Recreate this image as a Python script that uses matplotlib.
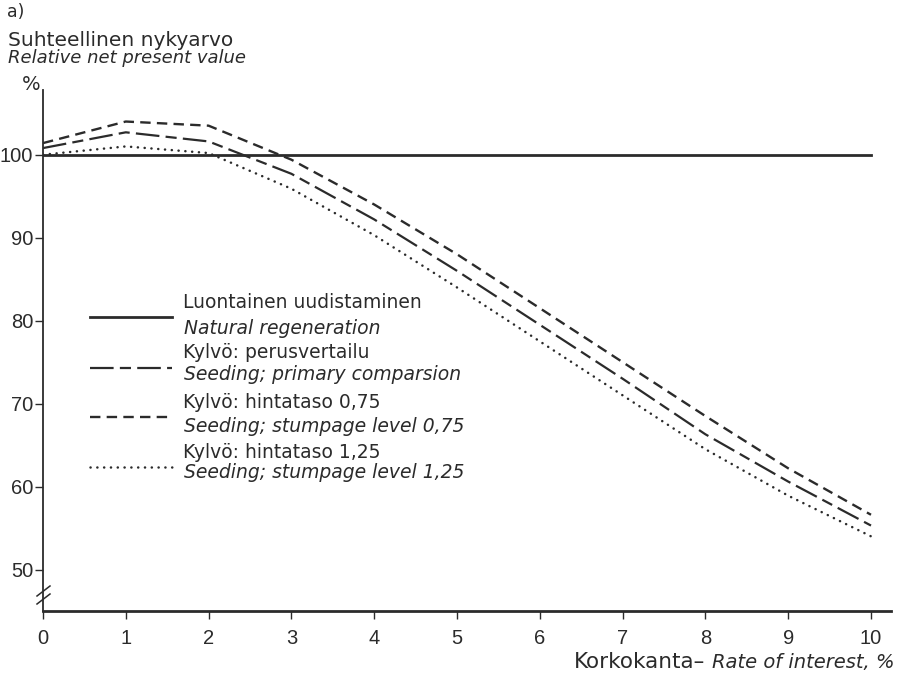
import numpy as np
import matplotlib
matplotlib.use("Agg")
import matplotlib.pyplot as plt
from matplotlib.lines import Line2D

plt.rcParams['font.family'] = ['DejaVu Sans']
plt.rcParams['lines.scale_dashes'] = False

# korkokanta %
rate = [0, 1, 2, 3, 4, 5, 6, 7, 8, 9, 10]
# suhteellinen nykyarvo, %
natural = [100, 100, 100, 100, 100, 100, 100, 100, 100, 100, 100]
seed_base = [100.8, 102.7, 101.6, 97.7, 92.2, 86.0, 79.5, 73.0, 66.3, 60.6, 55.3]
seed_075 = [101.4, 104.0, 103.5, 99.4, 94.0, 88.0, 81.5, 75.0, 68.5, 62.2, 56.6]
seed_125 = [100.0, 101.0, 100.2, 95.9, 90.3, 84.0, 77.5, 71.0, 64.5, 58.9, 54.0]

yticks = [50, 60, 70, 80, 90, 100]
xticks = [0, 1, 2, 3, 4, 5, 6, 7, 8, 9, 10]

labels_fi = ["Luontainen uudistaminen", "Kylvö: perusvertailu",
             "Kylvö: hintataso 0,75", "Kylvö: hintataso 1,25"]
labels_en = ["Natural regeneration", "Seeding; primary comparsion",
             "Seeding; stumpage level 0,75", "Seeding; stumpage level 1,25"]

ink = '#2b2b2b'
styles = [
    dict(linestyle='-', linewidth=2.0),
    dict(linestyle=(0, (17, 4.5, 8, 4.5)), linewidth=1.6),
    dict(linestyle=(0, (7.5, 4.5)), linewidth=1.7),
    dict(linestyle=(0, (0.1, 4.8)), linewidth=1.8, dash_capstyle='round'),
]
series = [natural, seed_base, seed_075, seed_125]

W, H = 902, 673
fig = plt.figure(figsize=(W / 100, H / 100), dpi=100)

def fx(px):
    return px / W

def fy(py):
    return 1 - py / H

x0, x1 = 43, 891
ytop, ybot = 90, 611
ax = fig.add_axes([fx(x0), fy(ybot), fx(x1) - fx(x0), fy(ytop) - fy(ybot)])
ax.set_xlim(0, (x1 - x0) / 82.8)
ax.set_ylim(45.0, 107.8)

for s, st in zip(series, styles):
    ax.plot(rate, s, color=ink, **st)

for side in ['top', 'right']:
    ax.spines[side].set_visible(False)
ax.spines['left'].set_linewidth(1.3)
ax.spines['bottom'].set_linewidth(2.0)
ax.spines['left'].set_color(ink)
ax.spines['bottom'].set_color(ink)

ax.set_xticks(xticks)
ax.set_xticklabels([str(v) for v in xticks], fontfamily='Liberation Sans')
ax.set_yticks(yticks)
ax.set_yticklabels([str(v) for v in yticks], fontfamily='Liberation Sans')
ax.tick_params(axis='both', direction='out', length=6, width=1.0, color=ink,
               labelsize=14.5, labelcolor=ink)
ax.tick_params(axis='x', pad=7)
ax.tick_params(axis='y', pad=1)

# akselin katkos
for dy in (-4, 4):
    fig.add_artist(Line2D([fx(37), fx(50)], [fy(600 + dy), fy(590 + dy)],
                          color=ink, linewidth=1.1))

# selite
key_y = [317, 368, 417, 467]
txt_fi_y = [303, 352, 402, 453]
txt_en_y = [328, 375, 427, 473]
for k in range(4):
    fig.add_artist(Line2D([fx(90), fx(172)], [fy(key_y[k])] * 2, color=ink,
                          **styles[k]))
    fig.text(fx(183), fy(txt_fi_y[k]), labels_fi[k], fontsize=13.5, color=ink,
             va='center', ha='left')
    fig.text(fx(184), fy(txt_en_y[k]), labels_en[k], fontsize=13.5, color=ink,
             style='italic', va='center', ha='left')

# otsikot
fig.text(fx(7), fy(12), "a)", fontsize=12.5, color=ink, va='center')
fig.text(fx(8), fy(40), "Suhteellinen nykyarvo", fontsize=14.5, color=ink,
         va='center')
fig.text(fx(8), fy(58), "Relative net present value", fontsize=13,
         color=ink, style='italic', va='center')
fig.text(fx(31), fy(85), "%", fontsize=14, color=ink, va='center',
         ha='center')

fig.text(fx(894), fy(662), "Rate of interest, %", fontsize=14, color=ink,
         style='italic', va='center', ha='right')
fig.text(fx(705), fy(662), "Korkokanta\u2013", fontsize=15.5, color=ink,
         va='center', ha='right')

fig.savefig('out.png', dpi=100, facecolor='white')
